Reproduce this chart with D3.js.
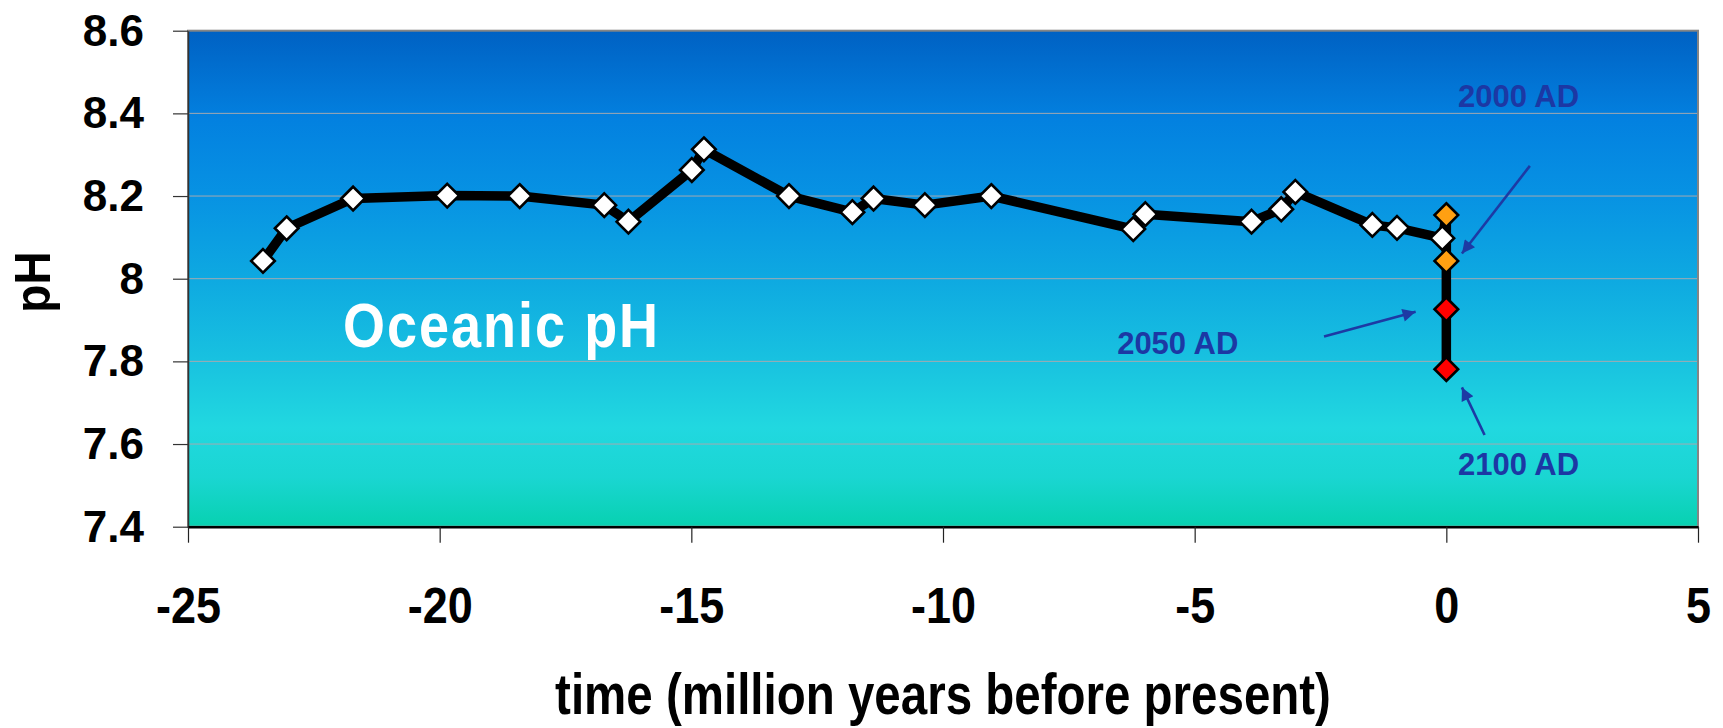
<!DOCTYPE html>
<html>
<head>
<meta charset="utf-8">
<script src="https://cdn.jsdelivr.net/npm/d3@7"></script>
<style>
  html, body { margin: 0; padding: 0; background: #ffffff; }
  svg { display: block; }
  text { font-family: "Liberation Sans", Arial, Helvetica, sans-serif; font-weight: bold; }
</style>
</head>
<body>
<svg id="chart" width="1723" height="728"></svg>
<script>
// ---------- data ----------
const timeMyr = [-23.51, -23.04, -21.72, -19.85, -18.41, -16.73, -16.25, -14.99, -14.75,
                 -13.06, -11.80, -11.38, -10.36, -9.04, -6.22, -5.98, -3.87, -3.28, -3.00,
                 -1.47, -0.98, -0.08];
const pHValues = [8.043, 8.122, 8.194, 8.201, 8.200, 8.178, 8.138, 8.263, 8.313,
                  8.200, 8.161, 8.194, 8.178, 8.200, 8.120, 8.156, 8.138, 8.168, 8.210,
                  8.130, 8.123, 8.098];
const projTime = [0, 0, 0, 0];
const projPH = [8.154, 8.043, 7.926, 7.781];
const projKind = ["orange", "orange", "red", "red"];

const xTicks = [-25, -20, -15, -10, -5, 0, 5];
const xTickLabels = ["-25", "-20", "-15", "-10", "-5", "0", "5"];
const yTicks = [8.6, 8.4, 8.2, 8.0, 7.8, 7.6, 7.4];
const yTickLabels = ["8.6", "8.4", "8.2", "8", "7.8", "7.6", "7.4"];

const chartTitle = "Oceanic pH";
const xTitle = "time (million years before present)";
const yTitle = "pH";

// annotations in data units
const annoLabels = ["2000 AD", "2050 AD", "2100 AD"];
const annoLabelX = [0.23, -6.54, 0.23];
const annoLabelY = [8.416, 7.818, 7.525];
const arrowFromX = [1.66, -2.43, 0.76];
const arrowFromY = [8.273, 7.86, 7.622];
const arrowToX = [0.31, -0.61, 0.31];
const arrowToY = [8.061, 7.92, 7.737];

// ---------- layout ----------
const W = 1723, H = 728;
const plot = { left: 188, right: 1698, top: 30.7, bottom: 526.7 };
const svg = d3.select("#chart");

const x = d3.scaleLinear().domain([-25, 5]).range([plot.left, plot.right]);
const y = d3.scaleLinear().domain([7.4, 8.6]).range([plot.bottom, plot.top]);

// gradient background
const defs = svg.append("defs");
const grad = defs.append("linearGradient").attr("id", "bg")
  .attr("x1", 0).attr("y1", 0).attr("x2", 0).attr("y2", 1);
[[0, "#0061c3"], [0.18, "#0381e0"], [0.33, "#0792e3"], [0.5, "#0ea9e1"],
 [0.66, "#18c1e0"], [0.8, "#21d8e0"], [0.9, "#1ad6d2"], [1, "#07d1b0"]]
  .forEach(([o, c]) => grad.append("stop").attr("offset", o).attr("stop-color", c));

const arrowColor = "#1d3aa4";
defs.append("marker").attr("id", "ah")
  .attr("viewBox", "0 0 10 10").attr("refX", 10).attr("refY", 5)
  .attr("markerWidth", 6.5).attr("markerHeight", 5).attr("markerUnits", "strokeWidth")
  .attr("orient", "auto")
  .append("path").attr("d", "M0,0 L10,5 L0,10 Z").attr("fill", arrowColor);

svg.append("rect")
  .attr("x", plot.left).attr("y", plot.top)
  .attr("width", plot.right - plot.left).attr("height", plot.bottom - plot.top)
  .attr("fill", "url(#bg)");

// gridlines
svg.append("g").selectAll("line")
  .data(yTicks.filter(d => d > 7.4 && d < 8.6))
  .join("line")
  .attr("x1", plot.left).attr("x2", plot.right)
  .attr("y1", d => y(d)).attr("y2", d => y(d))
  .attr("stroke", "#a4aab0").attr("stroke-width", 1);

// frame
svg.append("rect")
  .attr("x", plot.left).attr("y", plot.top)
  .attr("width", plot.right - plot.left).attr("height", plot.bottom - plot.top)
  .attr("fill", "none").attr("stroke", "#858585").attr("stroke-width", 2);

// y axis
const yAxis = d3.axisLeft(y).tickValues(yTicks)
  .tickFormat((d, i) => yTickLabels[i]).tickSize(15).tickSizeOuter(0).tickPadding(29);
const gy = svg.append("g").attr("transform", `translate(${plot.left},0)`).call(yAxis);
gy.select(".domain").attr("stroke", "#333").attr("stroke-width", 1.5);
gy.selectAll(".tick line").attr("stroke", "#333").attr("stroke-width", 1.2);
gy.selectAll(".tick text").attr("font-size", 44).attr("fill", "#000")
  .attr("dy", "0.33em")
  .style("font-family", '"Liberation Sans", Arial, sans-serif').style("font-weight", "bold");

// x axis
const xAxis = d3.axisBottom(x).tickValues(xTicks)
  .tickFormat((d, i) => xTickLabels[i]).tickSize(16).tickSizeOuter(0);
const gx = svg.append("g").attr("transform", `translate(0,${plot.bottom})`).call(xAxis);
gx.select(".domain").attr("stroke", "#000").attr("stroke-width", 2.5);
gx.selectAll(".tick line").attr("stroke", "#222").attr("stroke-width", 1.2);
const sx = 1.12;
gx.selectAll(".tick text").attr("font-size", 45).attr("fill", "#000")
  .attr("dy", 0).attr("y", 96.5 / sx).attr("transform", `scale(1,${sx})`)
  .style("font-family", '"Liberation Sans", Arial, sans-serif').style("font-weight", "bold");

// axis titles
const st = 1.2;
svg.append("text")
  .attr("transform", `translate(${(plot.left + plot.right) / 2},714) scale(1,${st})`)
  .attr("text-anchor", "middle").attr("font-size", 47.5).attr("fill", "#000")
  .text(xTitle);
svg.append("text")
  .attr("transform", `translate(50,282) rotate(-90) scale(1,1.1)`)
  .attr("text-anchor", "middle").attr("font-size", 46).attr("fill", "#000")
  .text(yTitle);

// chart title inside plot
svg.append("text")
  .attr("transform", `translate(${x(-21.92)},${y(7.835)}) scale(1,1.15)`)
  .attr("font-size", 54).attr("letter-spacing", 2).attr("fill", "#ffffff")
  .text(chartTitle);

// line through all points
const allPts = timeMyr.map((t, i) => [t, pHValues[i]])
  .concat(projTime.map((t, i) => [t, projPH[i]]));
const line = d3.line().x(d => x(d[0])).y(d => y(d[1]));
svg.append("path").datum(allPts)
  .attr("d", line).attr("fill", "none")
  .attr("stroke", "#000").attr("stroke-width", 9.5)
  .attr("stroke-linejoin", "round").attr("stroke-linecap", "round");

// markers
const r = 11.8;
const diamond = `M0,${-r} L${r},0 L0,${r} L${-r},0 Z`;
svg.append("g").selectAll("path")
  .data(timeMyr.map((t, i) => [t, pHValues[i]]))
  .join("path")
  .attr("d", diamond)
  .attr("transform", d => `translate(${x(d[0])},${y(d[1])})`)
  .attr("fill", "#ffffff").attr("stroke", "#000").attr("stroke-width", 2.6);

const kindColor = { orange: "#ffa012", red: "#ff0000" };
svg.append("g").selectAll("path")
  .data(projTime.map((t, i) => [t, projPH[i], projKind[i]]))
  .join("path")
  .attr("d", diamond)
  .attr("transform", d => `translate(${x(d[0])},${y(d[1])})`)
  .attr("fill", d => kindColor[d[2]]).attr("stroke", "#000").attr("stroke-width", 2.6);

// annotations
svg.append("g").selectAll("line")
  .data(arrowFromX.map((v, i) => i))
  .join("line")
  .attr("x1", i => x(arrowFromX[i])).attr("y1", i => y(arrowFromY[i]))
  .attr("x2", i => x(arrowToX[i])).attr("y2", i => y(arrowToY[i]))
  .attr("stroke", arrowColor).attr("stroke-width", 2.6)
  .attr("marker-end", "url(#ah)");

svg.append("g").selectAll("text")
  .data(annoLabels)
  .join("text")
  .attr("x", (d, i) => x(annoLabelX[i])).attr("y", (d, i) => y(annoLabelY[i]))
  .attr("font-size", 31).attr("fill", "#1c38a4")
  .text(d => d);
</script>
</body>
</html>
